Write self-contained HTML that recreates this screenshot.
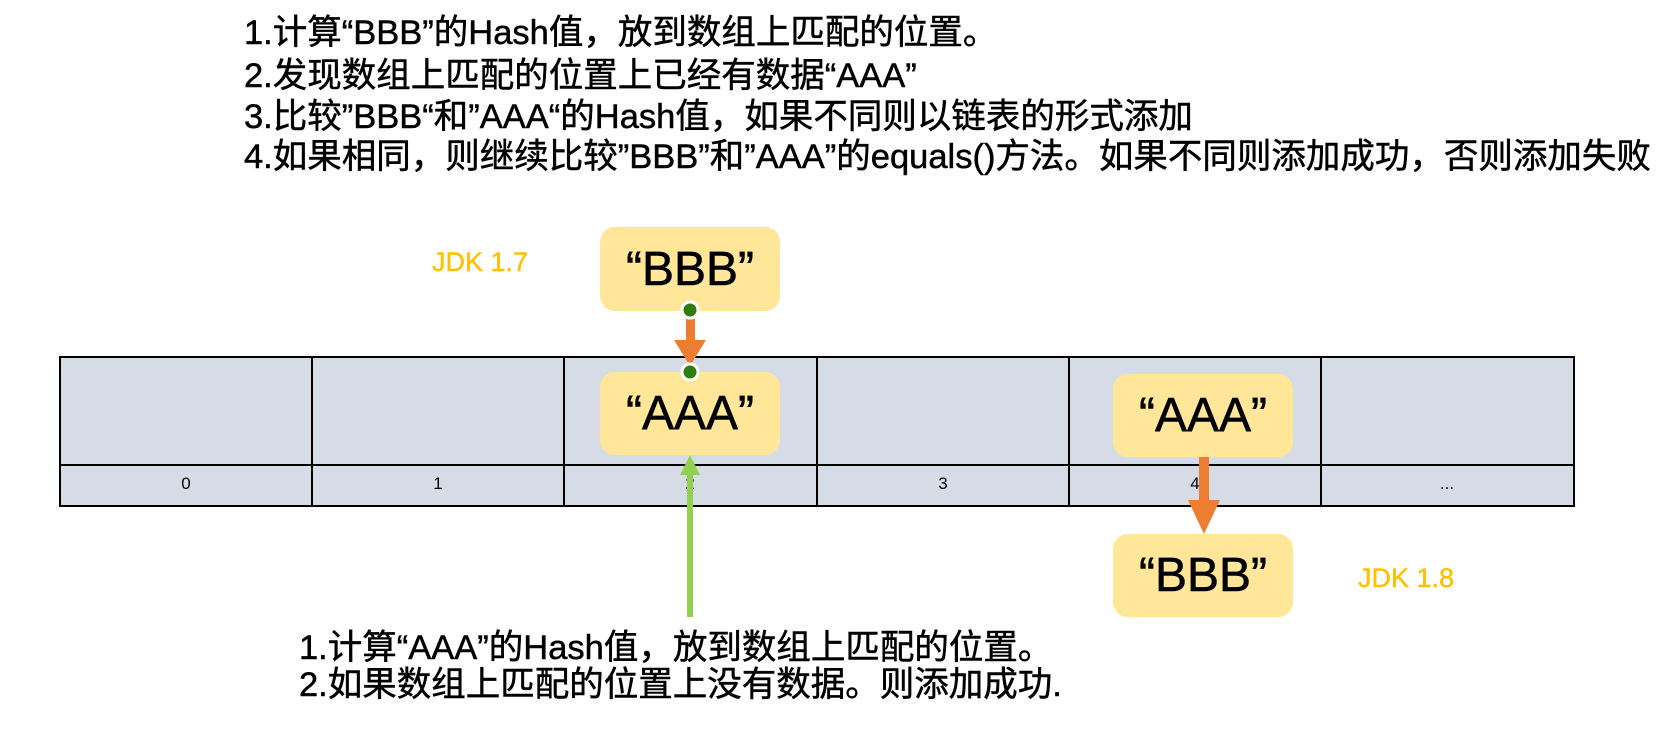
<!DOCTYPE html>
<html><head><meta charset="utf-8"><style>
body{margin:0;width:1673px;height:740px;background:#fff;overflow:hidden;position:relative;font-family:"Liberation Sans","Noto Sans CJK SC",sans-serif;}
.t{position:absolute;white-space:nowrap;font-size:34.5px;color:#000;line-height:38px;-webkit-text-stroke:0.5px #000;}
.box{position:absolute;background:#FFE699;border-radius:15px;display:flex;align-items:center;justify-content:center;font-size:48px;color:#000;-webkit-text-stroke:0.6px #000;}
.jdk{position:absolute;color:#FFC000;font-size:27px;line-height:30px;-webkit-text-stroke:0.4px #FFC000;}
.idx{position:absolute;font-size:17px;top:474px;width:252px;text-align:center;}
</style></head><body>
<div class="t" style="left:244px;top:14px">1.计算“BBB”的Hash值，放到数组上匹配的位置。</div>
<div class="t" style="left:244px;top:57px">2.发现数组上匹配的位置上已经有数据“AAA”</div>
<div class="t" style="left:244px;top:98px">3.比较”BBB“和”AAA“的Hash值，如果不同则以链表的形式添加</div>
<div class="t" style="left:244px;top:138px">4.如果相同，则继续比较”BBB”和”AAA”的equals()方法。如果不同则添加成功，否则添加失败</div>

<svg style="position:absolute;left:0;top:0" width="1673" height="740">
<rect x="60" y="357" width="1514" height="149" fill="#D6DCE5" stroke="#000" stroke-width="2"/>
<line x1="60" y1="465" x2="1574" y2="465" stroke="#000" stroke-width="2"/>
<g stroke="#000" stroke-width="2">
<line x1="312" y1="357" x2="312" y2="506"/><line x1="564" y1="357" x2="564" y2="506"/>
<line x1="817" y1="357" x2="817" y2="506"/><line x1="1069" y1="357" x2="1069" y2="506"/>
<line x1="1321" y1="357" x2="1321" y2="506"/>
</g>
</svg>
<div class="idx" style="left:60px">0</div>
<div class="idx" style="left:312px">1</div>
<div class="idx" style="left:564px">2</div>
<div class="idx" style="left:817px">3</div>
<div class="idx" style="left:1069px">4</div>
<div class="idx" style="left:1321px">...</div>

<div class="box" style="left:600px;top:227px;width:180px;height:84px">“BBB”</div>
<div class="box" style="left:600px;top:372px;width:180px;height:83px">“AAA”</div>
<div class="box" style="left:1113px;top:374px;width:180px;height:83px">“AAA”</div>
<div class="box" style="left:1113px;top:534px;width:180px;height:83px">“BBB”</div>

<svg style="position:absolute;left:0;top:0" width="1673" height="740">
<rect x="686" y="318" width="9" height="24" fill="#ED7D31"/>
<polygon points="674,340 706,340 690,366" fill="#ED7D31"/>
<circle cx="690" cy="310" r="8" fill="#2E7D0E" stroke="#fff" stroke-width="3"/>
<circle cx="690" cy="372" r="8" fill="#2E7D0E" stroke="#fff" stroke-width="3"/>
<rect x="1199" y="457" width="10" height="45" fill="#ED7D31"/>
<polygon points="1188,500 1220,500 1204,534" fill="#ED7D31"/>
<rect x="687" y="472" width="6" height="145" fill="#92D050"/>
<polygon points="680,475 700,475 690,455" fill="#92D050"/>
</svg>

<div class="jdk" style="left:432px;top:247px">JDK 1.7</div>
<div class="jdk" style="left:1358px;top:563px">JDK 1.8</div>

<div class="t" style="left:299px;top:629px">1.计算“AAA”的Hash值，放到数组上匹配的位置。</div>
<div class="t" style="left:299px;top:666px">2.如果数组上匹配的位置上没有数据。则添加成功.</div>
</body></html>
